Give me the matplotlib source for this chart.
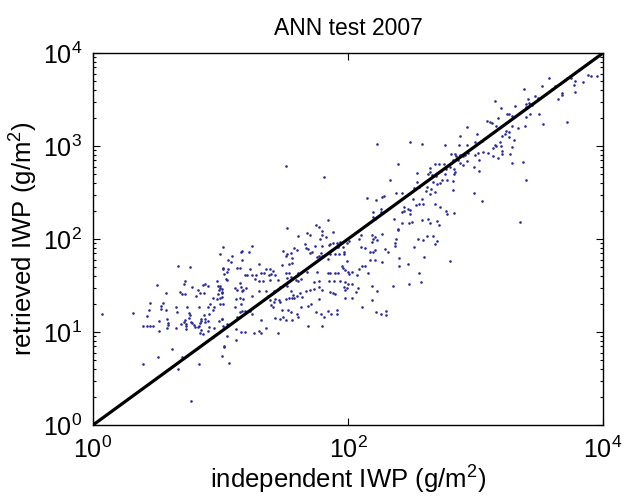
import numpy as np
import matplotlib
matplotlib.use('Agg')
import matplotlib.pyplot as plt
from matplotlib.ticker import FixedLocator, NullLocator, LogLocator, NullFormatter

plt.rcParams['font.family'] = ['Liberation Sans', 'DejaVu Sans']
plt.rcParams['mathtext.fontset'] = 'custom'
plt.rcParams['mathtext.rm'] = 'Liberation Sans'
plt.rcParams['mathtext.it'] = 'Liberation Sans:italic'
plt.rcParams['mathtext.bf'] = 'Liberation Sans:bold'

# log10(independent IWP), log10(retrieved IWP), by region
cloud_low = np.array([
    (1.00, 1.84), (0.67, 1.71), (0.76, 1.70), (1.02, 1.69), (0.72, 1.55), (0.71, 1.52),
    (0.50, 1.51), (0.78, 1.48), (0.88, 1.52), (0.86, 1.51), (0.90, 1.50), (0.97, 1.55),
    (0.98, 1.50), (1.00, 1.47), (0.99, 1.45), (1.01, 1.46), (0.82, 1.45), (0.68, 1.43),
    (0.70, 1.41), (0.72, 1.41), (0.57, 1.42), (0.84, 1.42), (0.87, 1.42), (0.81, 1.39),
    (0.98, 1.41), (1.01, 1.42), (1.00, 1.37), (0.97, 1.35), (0.94, 1.37), (1.00, 1.30),
    (1.02, 1.30), (0.45, 1.31), (0.55, 1.31), (0.53, 1.28), (0.53, 1.25), (0.44, 1.24),
    (0.57, 1.24), (0.65, 1.27), (0.74, 1.27), (0.66, 1.22), (0.83, 1.27), (0.90, 1.27),
    (0.95, 1.27), (0.92, 1.30), (0.94, 1.24), (0.07, 1.19), (0.31, 1.21), (0.42, 1.17),
    (0.75, 1.20), (0.76, 1.18), (0.75, 1.15), (0.87, 1.18), (0.91, 1.19), (0.88, 1.14),
    (0.58, 1.14), (0.72, 1.13), (0.71, 1.11), (0.73, 1.09), (0.85, 1.14), (0.85, 1.12),
    (0.84, 1.10), (0.88, 1.11), (0.90, 1.12), (0.52, 1.12), (0.59, 1.10), (0.59, 1.08),
    (0.39, 1.06), (0.42, 1.07), (0.47, 1.06), (0.45, 1.06), (0.58, 1.04), (0.65, 1.04),
    (0.69, 1.09), (0.77, 1.11), (0.78, 1.10), (0.79, 1.08), (0.80, 1.05), (0.82, 1.05),
    (0.83, 1.06), (0.73, 1.03), (0.73, 1.07), (0.52, 1.01), (0.85, 1.02), (0.84, 0.99),
    (0.86, 0.98), (0.90, 1.01), (0.91, 1.05), (0.95, 1.04), (0.99, 1.12), (1.01, 1.14),
    (0.94, 0.95), (1.02, 1.06), (0.62, 0.82), (0.70, 0.73), (0.51, 0.73), (0.39, 0.66),
    (0.67, 0.60), (0.83, 0.66), (1.01, 0.74), (1.03, 0.84), (0.77, 0.26),
])

cloud_mid = np.array([
    (1.84, 2.20), (1.75, 2.15), (1.77, 2.13), (1.52, 2.12), (1.80, 2.09), (1.68, 2.07),
    (1.70, 2.04), (1.88, 2.08), (1.80, 2.04), (1.83, 2.02), (1.61, 2.03), (1.78, 2.00),
    (1.91, 1.96), (1.94, 1.97), (1.99, 1.96), (2.01, 1.98), (1.88, 1.96), (1.86, 1.95),
    (1.85, 1.94), (1.80, 1.93), (1.25, 1.93), (1.02, 1.91), (1.66, 1.95), (1.67, 1.90),
    (1.69, 1.89), (1.74, 1.93), (1.58, 1.90), (1.60, 1.88), (1.96, 1.91), (1.92, 1.91),
    (1.52, 1.84), (1.51, 1.82), (1.55, 1.85), (1.49, 1.87), (1.16, 1.86), (1.17, 1.87),
    (1.22, 1.86), (1.09, 1.82), (1.17, 1.78), (1.79, 1.85), (1.77, 1.82), (1.76, 1.81),
    (1.72, 1.86), (1.70, 1.85), (1.97, 1.84), (1.93, 1.84), (1.90, 1.84), (1.86, 1.84),
    (1.84, 1.79), (1.80, 1.82), (1.56, 1.80), (1.56, 1.74), (1.54, 1.73), (1.48, 1.72),
    (1.06, 1.77), (1.08, 1.75), (1.06, 1.68), (1.05, 1.65), (1.30, 1.73), (1.36, 1.68),
    (1.41, 1.66), (1.39, 1.68), (1.13, 1.69), (1.15, 1.69), (1.23, 1.68), (1.02, 1.68),
    (1.95, 1.71), (1.96, 1.69), (1.98, 1.67), (2.00, 1.65), (1.68, 1.65), (1.76, 1.65),
    (1.84, 1.64), (1.86, 1.64), (1.90, 1.64), (1.92, 1.64), (1.19, 1.61), (1.21, 1.61),
    (1.25, 1.61), (1.28, 1.61), (1.32, 1.63), (1.34, 1.64), (1.38, 1.61), (1.40, 1.62),
    (1.43, 1.61), (1.51, 1.63), (1.54, 1.64), (1.61, 1.64), (1.03, 1.62), (1.04, 1.57),
    (1.05, 1.56), (1.27, 1.57), (1.30, 1.55), (1.33, 1.55), (1.15, 1.53), (1.39, 1.56),
    (1.45, 1.56), (1.52, 1.58), (1.55, 1.59), (1.59, 1.56), (1.61, 1.55), (1.63, 1.57),
    (1.73, 1.54), (1.77, 1.55), (1.85, 1.55), (1.89, 1.55), (1.94, 1.55), (1.98, 1.54),
    (2.00, 1.52), (1.97, 1.48), (1.99, 1.47), (1.11, 1.47), (1.13, 1.45), (1.16, 1.48),
    (1.17, 1.44), (1.18, 1.45), (1.20, 1.47), (1.00, 1.49), (1.01, 1.43), (1.01, 1.38),
    (1.25, 1.39), (1.30, 1.44), (1.36, 1.44), (1.42, 1.44), (1.47, 1.48), (1.52, 1.49),
    (1.55, 1.44), (1.57, 1.40), (1.60, 1.39), (1.62, 1.42), (1.67, 1.44), (1.70, 1.45),
    (1.73, 1.46), (1.77, 1.48), (1.80, 1.45), (1.86, 1.43), (1.88, 1.42), (1.90, 1.41),
    (1.12, 1.36), (1.15, 1.37), (1.18, 1.36), (1.37, 1.39), (1.43, 1.36), (1.46, 1.34),
    (1.51, 1.35), (1.54, 1.37), (1.56, 1.37), (1.58, 1.37), (1.64, 1.38), (1.77, 1.35),
    (1.71, 1.30), (1.69, 1.28), (1.63, 1.27), (1.40, 1.29), (1.41, 1.27), (1.42, 1.32),
    (1.39, 1.34), (1.47, 1.32), (1.16, 1.30), (1.11, 1.27), (1.15, 1.22), (1.17, 1.23),
    (1.19, 1.23), (1.23, 1.23), (1.25, 1.19), (1.48, 1.24), (1.53, 1.24), (1.55, 1.22),
    (1.60, 1.19), (1.61, 1.16), (1.75, 1.22), (1.79, 1.19), (1.81, 1.16), (1.84, 1.23),
    (1.87, 1.19), (1.91, 1.19), (1.91, 1.24), (1.01, 1.14), (1.13, 1.16), (1.32, 1.13),
    (1.43, 1.15), (1.47, 1.14), (1.49, 1.16), (1.51, 1.13), (1.56, 1.13), (1.05, 1.09),
    (1.06, 1.08), (1.12, 1.03), (1.36, 1.04), (1.69, 1.07), (1.80, 1.06), (1.05, 0.96),
    (1.16, 1.00), (1.19, 1.00), (1.26, 0.99), (1.30, 1.01), (1.32, 0.99), (1.45, 0.99),
    (1.12, 0.91), (1.03, 0.85), (1.07, 0.67),
])

cloud_upper = np.array([
    (2.23, 3.02), (2.49, 3.04), (2.58, 3.02), (2.76, 3.01), (2.87, 3.01), (2.93, 3.01),
    (2.81, 2.91), (2.84, 2.91), (2.85, 2.89), (2.88, 2.90), (2.90, 2.89), (2.92, 2.90),
    (2.94, 2.93), (2.82, 2.85), (2.86, 2.85), (2.88, 2.82), (2.90, 2.80), (2.93, 2.84),
    (2.39, 2.81), (2.64, 2.76), (2.68, 2.81), (2.71, 2.81), (2.75, 2.81), (2.77, 2.75),
    (2.73, 2.73), (2.70, 2.71), (2.64, 2.72), (2.66, 2.69), (2.63, 2.70), (2.69, 2.68),
    (2.76, 2.70), (2.80, 2.77), (2.83, 2.75), (2.84, 2.72), (2.83, 2.70), (2.54, 2.71),
    (2.33, 2.64), (2.74, 2.64), (2.78, 2.64), (2.82, 2.62), (2.54, 2.61), (2.52, 2.55),
    (2.56, 2.56), (2.67, 2.61), (2.70, 2.59), (2.72, 2.60), (2.65, 2.54), (2.68, 2.51),
    (2.61, 2.52), (2.62, 2.56), (2.64, 2.48), (2.82, 2.53), (2.27, 2.45), (2.28, 2.46),
    (2.38, 2.49), (2.42, 2.49), (2.22, 2.42), (2.51, 2.43), (2.53, 2.37), (2.56, 2.38),
    (2.58, 2.43), (2.59, 2.38), (2.68, 2.38), (2.72, 2.35), (2.44, 2.34), (2.42, 2.29),
    (2.44, 2.30), (2.47, 2.32), (2.49, 2.31), (2.49, 2.27), (2.20, 2.29), (2.26, 2.32),
    (2.26, 2.29), (2.20, 2.24), (2.21, 2.22), (2.36, 2.22), (2.39, 2.11), (2.39, 2.10),
    (2.42, 2.17), (2.48, 2.17), (2.50, 2.18), (2.58, 2.20), (2.63, 2.22), (2.64, 2.17),
    (2.70, 2.19), (2.71, 2.15), (2.77, 2.30), (2.78, 2.27), (2.83, 2.28), (2.27, 2.05),
    (2.19, 2.04), (2.20, 2.00), (2.21, 2.02), (2.23, 1.99), (2.19, 1.97), (2.09, 2.00),
    (2.10, 2.04), (2.38, 2.00), (2.37, 1.96), (2.37, 1.92), (2.62, 2.03), (2.67, 2.03),
    (2.68, 1.95), (2.70, 1.98), (2.55, 2.00), (2.59, 1.99), (2.52, 1.91), (2.10, 1.91),
    (2.13, 1.90), (2.17, 1.86), (2.20, 1.86), (2.21, 1.88), (2.29, 1.89), (2.31, 1.86),
    (2.40, 1.80), (2.60, 1.81), (1.99, 1.76), (2.17, 1.77), (2.21, 1.77), (2.27, 1.75),
    (2.40, 1.71), (2.47, 1.73), (2.80, 1.76), (2.01, 1.62), (2.03, 1.65), (2.07, 1.61),
    (2.09, 1.68), (2.11, 1.71), (2.13, 1.71), (2.16, 1.64), (1.98, 1.45), (2.03, 1.52),
    (2.06, 1.43), (2.08, 1.47), (2.19, 1.50), (2.23, 1.44), (2.35, 1.49), (2.48, 1.52),
    (2.56, 1.63), (2.57, 1.54), (1.98, 1.37), (2.03, 1.37), (2.19, 1.34), (2.11, 1.27),
    (2.22, 1.22), (2.30, 1.23), (2.26, 1.19), (2.30, 1.18), (1.97, 1.86), (1.81, 2.67),
    (2.15, 2.44), (1.51, 2.79),
])

cloud_high = np.array([
    (3.58, 3.73), (3.38, 3.61), (3.52, 3.65), (3.62, 3.65), (3.60, 3.61), (3.70, 3.71),
    (3.72, 3.73), (3.75, 3.73), (3.78, 3.70), (3.77, 3.66), (3.84, 3.69), (3.88, 3.76),
    (3.91, 3.75), (3.95, 3.75), (3.78, 3.58), (3.68, 3.57), (3.68, 3.55), (3.65, 3.51),
    (3.47, 3.54), (3.49, 3.52), (3.41, 3.51), (3.42, 3.46), (3.43, 3.45), (3.44, 3.44),
    (3.40, 3.45), (3.40, 3.42), (3.15, 3.48), (3.20, 3.41), (3.31, 3.43), (3.25, 3.35),
    (3.26, 3.34), (3.29, 3.32), (3.43, 3.34), (3.50, 3.34), (3.40, 3.31), (3.18, 3.30),
    (3.09, 3.27), (3.11, 3.26), (3.13, 3.25), (3.16, 3.22), (3.29, 3.22), (3.33, 3.19),
    (3.39, 3.22), (3.53, 3.24), (3.72, 3.26), (2.93, 3.20), (3.01, 3.13), (2.88, 3.11),
    (3.21, 3.11), (3.23, 3.13), (3.24, 3.16), (3.26, 3.15), (3.26, 3.10), (3.30, 3.07),
    (3.00, 3.04), (3.05, 3.05), (3.15, 3.01), (3.14, 2.98), (3.16, 3.00), (3.19, 3.04),
    (3.20, 3.00), (3.29, 2.99), (3.00, 2.90), (3.02, 2.92), (3.06, 2.94), (3.10, 2.93),
    (3.14, 2.89), (3.18, 2.87), (3.21, 2.91), (3.21, 2.95), (3.27, 2.91), (2.99, 2.78),
    (3.03, 2.85), (3.03, 2.73), (3.29, 2.82), (3.37, 2.83), (3.40, 2.64), (2.99, 2.50),
    (3.05, 2.41), (3.35, 2.18),
])

one_to_one = [1, 1e4]

pts = np.vstack([cloud_low, cloud_mid, cloud_upper, cloud_high])
iwp_indep = 10 ** pts[:, 0]
iwp_retr = 10 ** pts[:, 1]

fig = plt.figure(figsize=(6.3, 5.04), dpi=100)
ax = fig.add_axes([0.1476, 0.1567, 0.8095, 0.738])

ax.scatter(iwp_indep, iwp_retr, s=3.5, marker='o', color='#2a2a96', linewidths=0, zorder=2)
ax.plot(one_to_one, one_to_one, color='black', linewidth=2.3, zorder=3)

ax.set_xscale('log')
ax.set_yscale('log')
ax.set_xlim(1, 1e4)
ax.set_ylim(1, 1e4)

ax.xaxis.set_major_locator(FixedLocator([1, 1e2, 1e4]))
ax.xaxis.set_minor_locator(NullLocator())
ax.yaxis.set_major_locator(LogLocator(base=10, numticks=10))
ax.yaxis.set_minor_locator(LogLocator(base=10, subs=np.arange(2, 10), numticks=10))
ax.yaxis.set_minor_formatter(NullFormatter())

ax.tick_params(which='both', direction='in', top=True, right=True, width=0.8)
ax.tick_params(which='major', length=5, labelsize=18, pad=8)
ax.tick_params(which='minor', length=2.5)
for s in ax.spines.values():
    s.set_linewidth(1.0)

ax.set_xlabel('independent IWP (g/m$^2$)', fontsize=18.5, labelpad=1)
ax.set_ylabel('retrieved IWP (g/m$^2$)', fontsize=18.5, labelpad=2)
ax.set_title('ANN test 2007', fontsize=16.5, pad=13)

fig.savefig('out.png', dpi=100, facecolor='white')
